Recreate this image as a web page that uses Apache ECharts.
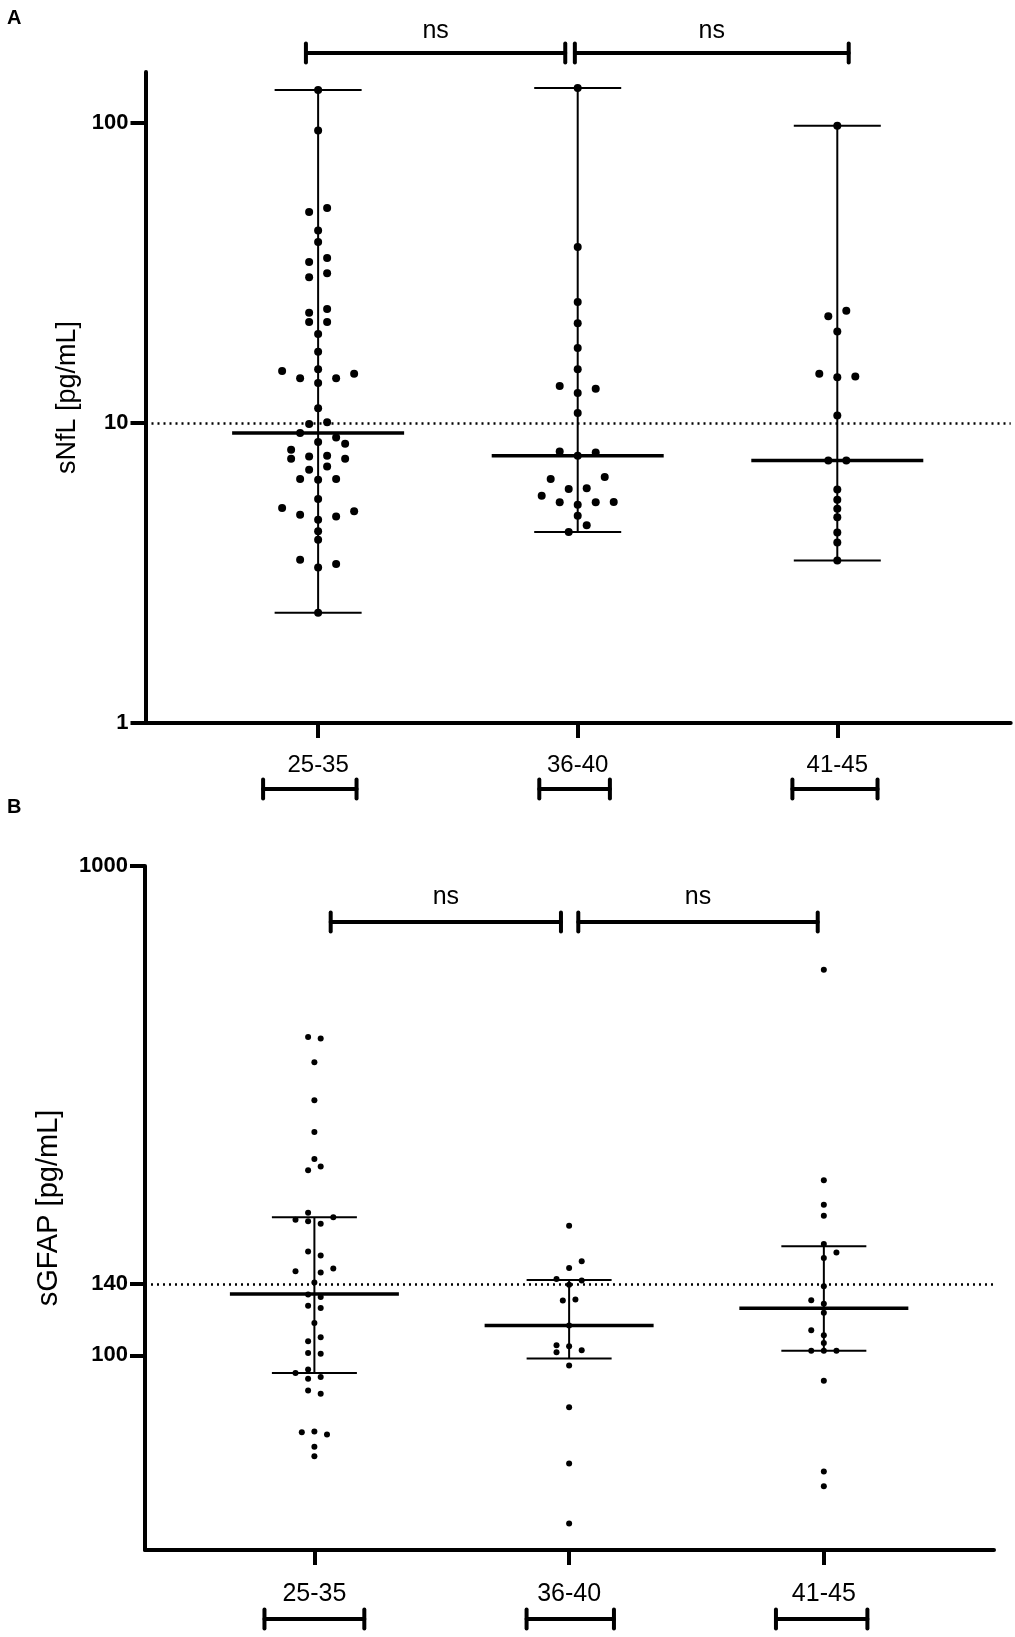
<!DOCTYPE html>
<html>
<head>
<meta charset="utf-8">
<title>sNfL / sGFAP by age group</title>
<style>
    html, body { margin: 0; padding: 0; background: #fff; }
    #chart { width: 1015px; height: 1637px; }
</style>
<script src="https://cdn.jsdelivr.net/npm/echarts@6/dist/echarts.min.js"></script>
</head>
<body>
<div id="chart"></div>
<script>
var groups = ['25-35', '36-40', '41-45'];

// A: serum NfL (pg/mL), dots per age group, read top to bottom
var nflG1 = [129, 94.5, 52.1, 50.5, 43.8, 40.1, 35.5, 34.4, 31.6, 30.6,
    24.0, 23.3, 21.7, 21.7, 19.8, 17.3, 15.1, 14.9, 14.6, 14.1,
    14.1, 13.6, 11.2, 10.07, 9.92, 9.26, 8.95, 8.64, 8.53, 8.15,
    7.78, 7.74, 7.60, 7.60, 7.17, 6.99, 6.51, 6.47, 6.51, 5.58,
    5.21, 5.08, 4.95, 4.88, 4.76, 4.36, 4.08, 3.50, 3.39, 3.30, 2.33];
var nflG2 = [130.8, 38.6, 25.3, 21.5, 17.8, 15.1, 13.3, 13.0, 12.6, 10.8,
    8.04, 7.98, 7.78, 6.51, 6.61, 6.03, 6.06, 5.72, 5.44, 5.34,
    5.44, 5.45, 4.91, 4.56, 4.33];
var nflG3 = [97.9, 23.7, 22.7, 20.2, 14.6, 14.3, 14.2, 10.6, 7.50, 7.50,
    6.0, 5.55, 5.18, 4.85, 4.32, 4.00, 3.48];
var nflMedian = [9.26, 7.78, 7.50];
var nflLow = [2.33, 4.33, 3.48];     // range = min..max
var nflHigh = [129, 130.8, 97.9];
var nflCutoff = 10;
var nflTicks = [1, 10, 100];

// B: serum GFAP (pg/mL)
var gfapG1 = [447, 444, 397, 332, 286, 252, 243, 239, 195.5, 191.5,
    189.3, 187.9, 185.8, 163, 160, 148.5, 150.4, 147.6, 140.9, 133.1,
    131.5, 126.3, 124.9, 116.4, 108.8, 106.8, 101.1, 100.7, 93.5, 92.0,
    90.3, 89.6, 84.7, 83.4, 69.6, 69.9, 68.9, 65.0, 62.2];
var gfapG2 = [184, 155.6, 150.8, 143.2, 142.2, 139.4, 129.4, 130, 115, 104.8,
    104.3, 102.4, 101.4, 95.3, 78.3, 60.1, 45.3];
var gfapG3 = [614, 228, 203, 192.8, 168.9, 162.3, 158.1, 138.4, 129.5, 127.4,
    122.1, 112.5, 109.9, 106, 102.2, 102.2, 102.2, 88.7, 57.9, 54.0];
var gfapMedian = [133.4, 115.0, 124.8];
var gfapLow = [92.0, 98.5, 102.2];   // interquartile range
var gfapHigh = [191.5, 142.5, 167];
var gfapCutoff = 140;
var gfapTicks = [100, 140, 1000];

// horizontal dodge slot of every dot (scatter dot plot layout)
var nflSlot1 = [0, 0, 1, -1, 0, 0, 1, -1, 1, -1, 1, -1, 1, -1, 0, 0, 0, -4, 4, -2,
    2, 0, 0, 1, -1, -2, 2, 0, 3, -3, 1, -1, -3, 3, 1, -1, -2, 0, 2, 0,
    -4, 4, -2, 2, 0, 0, 0, -2, 2, 0, 0];
var nflSlot2 = [0, 0, 0, 0, 0, 0, -2, 2, 0, 0, -2, 2, 0, -3, 3, -1, 1, -4, -2, 0, 2, 4, 0, 1, -1];
var nflSlot3 = [0, 1, -1, 0, -2, 2, 0, 0, -1, 1, 0, 0, 0, 0, 0, 0, 0];
var gfapSlot1 = [-1, 1, 0, 0, 0, 0, 1, -1, -1, 3, -3, -1, 1, -1, 1, -3, 3, 1, 0, -1,
    1, -1, 1, 0, 1, -1, -1, 1, -1, -3, 1, -1, -1, 1, -2, 0, 2, 0, 0];
var gfapSlot2 = [0, 2, 0, -2, 2, 0, -1, 1, 0, -2, 0, 2, -2, 0, 0, 0, 0];
var gfapSlot3 = [0, 0, 0, 0, 0, 2, 0, 0, -2, 0, 0, -2, 0, 0, -2, 0, 2, 0, 0, 0];

// annotations: comparison bars ("ns") and age-range bars under the labels
var sigBarsA = [[-0.047, 0.952], [0.989, 2.044]];
var sigBarsB = [[0.064, 0.968], [1.036, 1.976]];
var ageBarsA = [[-0.212, 0.148], [0.852, 1.124], [1.827, 2.155]];
var ageBarsB = [[-0.196, 0.196], [0.833, 1.176], [1.812, 2.171]];

var FONT = 'Liberation Sans';
var chart = echarts.init(document.getElementById('chart'));

function dots(lists, slots, step) {
    var out = [];
    lists.forEach(function (vals, gi) {
        vals.forEach(function (v, i) {
            out.push([gi + slots[gi][i] * step, v]);
        });
    });
    return out;
}

function xAxisOpt(gridIndex, fontSize, margin) {
    return {
        type: 'value', gridIndex: gridIndex, min: -0.665, max: 2.668,
        axisLine: {show: true, onZero: false, lineStyle: {color: '#000', width: 4}},
        axisTick: {show: true, customValues: [0, 1, 2], length: 15, lineStyle: {color: '#000', width: 4}},
        axisLabel: {
            customValues: [0, 1, 2], margin: margin, color: '#000',
            fontSize: fontSize, fontFamily: FONT,
            formatter: function (v) { return groups[Math.round(v)]; }
        },
        splitLine: {show: false}
    };
}

function yAxisOpt(gridIndex, min, max, ticks, name, nameSize, nameGap) {
    return {
        type: 'log', logBase: 10, gridIndex: gridIndex, min: min, max: max,
        name: name, nameLocation: 'middle', nameRotate: 90, nameGap: nameGap,
        nameTextStyle: {color: '#000', fontSize: nameSize, fontFamily: FONT},
        axisLine: {show: true, onZero: false, lineStyle: {color: '#000', width: 4}},
        axisTick: {show: true, customValues: ticks, length: 15, lineStyle: {color: '#000', width: 4}},
        axisLabel: {
            customValues: ticks, margin: 17, color: '#000', fontWeight: 'bold',
            fontSize: 22, fontFamily: FONT,
            formatter: function (v) { return String(Math.round(v)); }
        },
        splitLine: {show: false},
        minorTick: {show: false}
    };
}

function dotSeries(idx, data, size, cutoff) {
    return {
        type: 'scatter', xAxisIndex: idx, yAxisIndex: idx, data: data,
        symbol: 'circle', symbolSize: size, itemStyle: {color: '#000', opacity: 1},
        silent: true, z: 3,
        markLine: {
            silent: true, symbol: ['none', 'none'], label: {show: false},
            lineStyle: {color: '#000', width: 2.5, type: [2, 4]},
            data: [{yAxis: cutoff}]
        }
    };
}

// median line with whisker (range or IQR)
function summarySeries(idx, median, low, high, capHalf, medHalf) {
    return {
        type: 'custom', xAxisIndex: idx, yAxisIndex: idx, silent: true, z: 2,
        data: median.map(function (m, i) { return [i, m, low[i], high[i]]; }),
        renderItem: function (params, api) {
            var x = api.value(0);
            var md = api.coord([x, api.value(1)]);
            var lo = api.coord([x, api.value(2)]);
            var hi = api.coord([x, api.value(3)]);
            var thin = {stroke: '#000', lineWidth: 2};
            return {
                type: 'group', children: [
                    {type: 'line', shape: {x1: lo[0], y1: lo[1], x2: hi[0], y2: hi[1]}, style: thin},
                    {type: 'line', shape: {x1: lo[0] - capHalf, y1: lo[1], x2: lo[0] + capHalf, y2: lo[1]}, style: thin},
                    {type: 'line', shape: {x1: hi[0] - capHalf, y1: hi[1], x2: hi[0] + capHalf, y2: hi[1]}, style: thin},
                    {type: 'line', shape: {x1: md[0] - medHalf, y1: md[1], x2: md[0] + medHalf, y2: md[1]},
                        style: {stroke: '#000', lineWidth: 3.5}}
                ]
            };
        }
    };
}

// horizontal bar with end ticks; yRef/offset place it, label optional
function barSeries(idx, bars, yRef, offset, label, labelGap) {
    return {
        type: 'custom', xAxisIndex: idx, yAxisIndex: idx, silent: true, clip: false,
        data: bars.map(function (b) { return [b[0], yRef, b[1]]; }),
        renderItem: function (params, api) {
            var p1 = api.coord([api.value(0), api.value(1)]);
            var p2 = api.coord([api.value(2), api.value(1)]);
            var y = p1[1] + offset;
            var st = {stroke: '#000', lineWidth: 4, lineCap: 'round'};
            var kids = [
                {type: 'line', shape: {x1: p1[0], y1: y, x2: p2[0], y2: y}, style: st},
                {type: 'line', shape: {x1: p1[0], y1: y - 9.5, x2: p1[0], y2: y + 9.5}, style: st},
                {type: 'line', shape: {x1: p2[0], y1: y - 9.5, x2: p2[0], y2: y + 9.5}, style: st}
            ];
            if (label) {
                kids.push({
                    type: 'text',
                    style: {
                        text: label, x: (p1[0] + p2[0]) / 2, y: y - labelGap,
                        align: 'center', verticalAlign: 'middle',
                        fontSize: 25, fontFamily: FONT, fill: '#000'
                    }
                });
            }
            return {type: 'group', children: kids};
        }
    };
}

var option = {
    animation: false,
    backgroundColor: '#fff',
    grid: [
        {left: 145.5, top: 72, right: 4.3, height: 651},
        {left: 145, top: 866, right: 21, height: 684}
    ],
    xAxis: [xAxisOpt(0, 24, 30), xAxisOpt(1, 25, 32)],
    yAxis: [
        yAxisOpt(0, 1, 148, nflTicks, 'sNfL [pg/mL]', 27, 63),
        yAxisOpt(1, 40, 1000, gfapTicks, 'sGFAP [pg/mL]', 29, 82)
    ],
    graphic: [
        {type: 'text', left: 7, top: 8, style: {text: 'A', fontSize: 20, fontWeight: 'bold', fontFamily: FONT, fill: '#000'}},
        {type: 'text', left: 7, top: 797, style: {text: 'B', fontSize: 20, fontWeight: 'bold', fontFamily: FONT, fill: '#000'}}
    ],
    series: [
        dotSeries(0, dots([nflG1, nflG2, nflG3], [nflSlot1, nflSlot2, nflSlot3], 9 / 259.5), 8, nflCutoff),
        summarySeries(0, nflMedian, nflLow, nflHigh, 43.5, 86),
        barSeries(0, sigBarsA, 148, -19, 'ns', 21.5),
        barSeries(0, ageBarsA, 1, 66, null, 0),
        dotSeries(1, dots([gfapG1, gfapG2, gfapG3], [gfapSlot1, gfapSlot2, gfapSlot3], 6.3 / 254.85), 6, gfapCutoff),
        summarySeries(1, gfapMedian, gfapLow, gfapHigh, 42.5, 84.5),
        barSeries(1, sigBarsB, 1000, 56, 'ns', 24.5),
        barSeries(1, ageBarsB, 40, 69, null, 0)
    ]
};

chart.setOption(option);
</script>
</body>
</html>
